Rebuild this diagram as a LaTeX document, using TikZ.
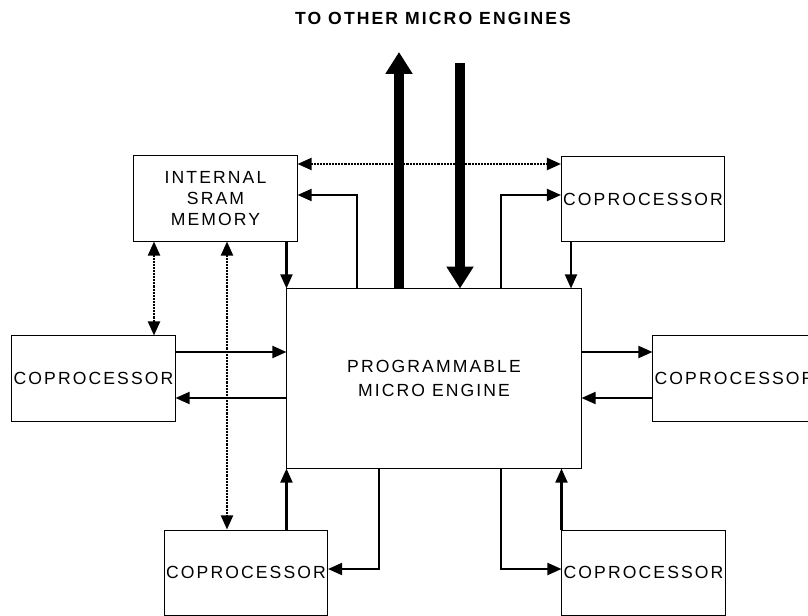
\documentclass[tikz,border=0pt]{standalone}
\usepackage{fontspec}
\setmainfont{Liberation Sans}
\newfontfamily\spaced[LetterSpace=12]{Liberation Sans}
\usetikzlibrary{arrows.meta}
\begin{document}
\begin{tikzpicture}[
  x=0.025cm, y=-0.025cm,
  font=\spaced\fontsize{12.5pt}{17pt}\selectfont,
  box/.style={draw, line width=0.7pt, inner sep=0pt, align=center, minimum width=4.075cm, minimum height=2.125cm},
  arr/.style={-{Triangle[length=10pt,width=8.5pt]}, line width=1.5pt},
  dots/.style={{Triangle[length=10pt,width=8.5pt]}-{Triangle[length=10pt,width=8.5pt]}, line width=1.6pt, dash pattern=on 0.6pt off 0.45pt},
  fat/.style={-{Triangle[length=15.6pt,width=18.4pt]}, line width=7pt}
]
\useasboundingbox[fill=white] (0,0) rectangle (808,616);

\node[box, font=\spaced\fontsize{12.5pt}{15pt}\selectfont] (sram) at (215.5,198.5) {INTERNAL\\SRAM\\MEMORY};
\node[box] (cpTR) at (643,199) {COPROCESSOR};
\node[box, minimum width=7.35cm, minimum height=4.475cm] (engine) at (434,378.5) {PROGRAMMABLE\\MICRO ENGINE};
\node[box] (cpL) at (93.5,378.5) {COPROCESSOR};
\node[box] (cpR) at (734.5,378.5) {COPROCESSOR};
\node[box] (cpBL) at (246,572.5) {COPROCESSOR};
\node[box] (cpBR) at (643.5,572.5) {COPROCESSOR};
\node[font=\spaced\bfseries\fontsize{12.5pt}{14pt}\selectfont] (title) at (433,18) {TO OTHER MICRO ENGINES};

\coordinate (upend) at (399,52);
\coordinate (downstart) at (460,63);

\draw[fat] (engine.north -| upend) -- (upend);
\draw[fat] (downstart) -- (engine.north -| downstart);

\draw[dots] (sram.east |- 0,164) -- (cpTR.west |- 0,164);
\draw[arr] (engine.north -| 357,0) |- (sram.east |- 0,195);
\draw[arr] (engine.north -| 501,0) |- (cpTR.west |- 0,195);
\draw[arr] (sram.south -| engine.west) -- (engine.north west);
\draw[arr] (cpTR.south -| 571,0) -- (engine.north -| 571,0);

\draw[dots] (sram.south -| 154,0) -- (cpL.north -| 154,0);
\draw[dots] (sram.south -| 227,0) -- (cpBL.north -| 227,0);

\draw[arr] (cpL.east |- 0,352) -- (engine.west |- 0,352);
\draw[arr] (engine.west |- 0,398) -- (cpL.east |- 0,398);
\draw[arr] (engine.east |- 0,352) -- (cpR.west |- 0,352);
\draw[arr] (cpR.west |- 0,398) -- (engine.east |- 0,398);

\draw[arr] (cpBL.north -| engine.west) -- (engine.south west);
\draw[arr] (engine.south -| 379,0) |- (cpBL.east |- 0,569);
\draw[arr] (engine.south -| 501,0) |- (cpBR.west |- 0,569);
\draw[arr] (cpBR.north west) -- (engine.south -| cpBR.west);
\end{tikzpicture}
\end{document}
